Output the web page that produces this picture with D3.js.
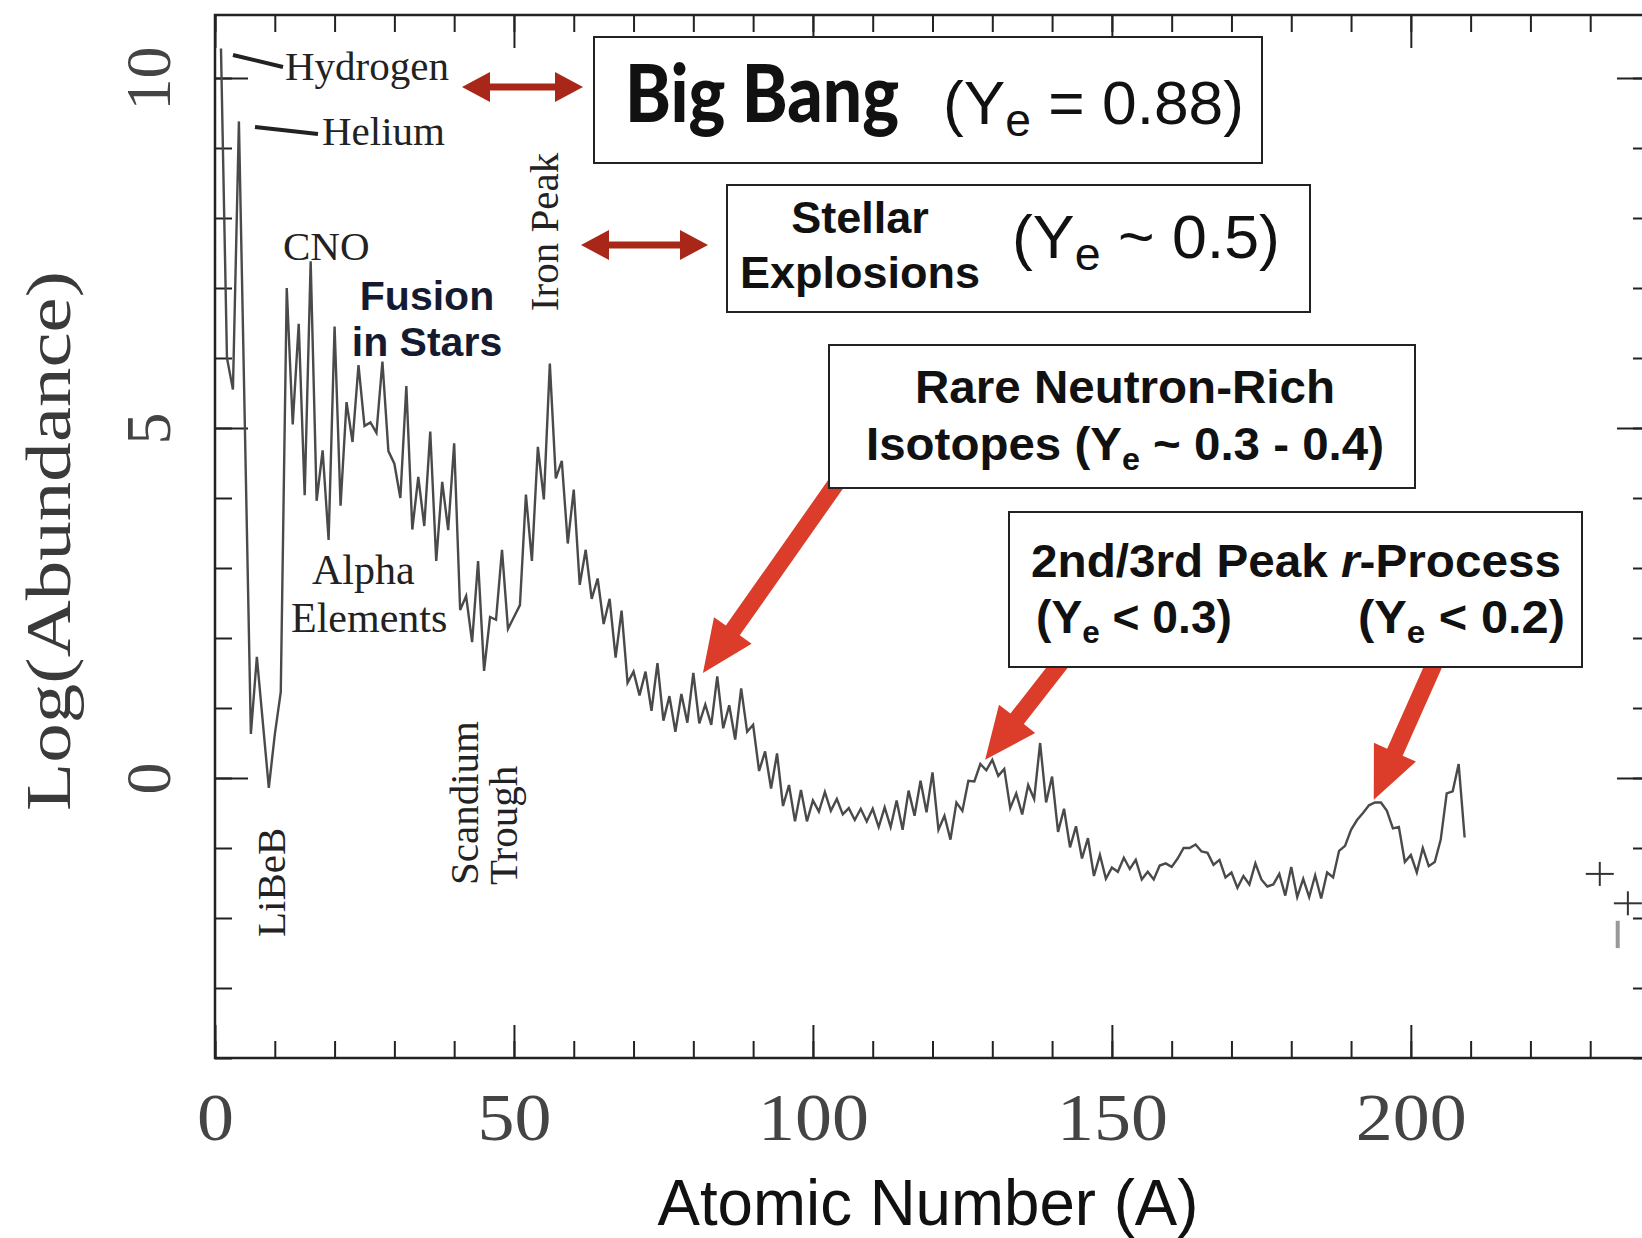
<!DOCTYPE html>
<html>
<head>
<meta charset="utf-8">
<script src="https://cdn.jsdelivr.net/npm/d3@7"></script>
<style>
  body { margin: 0; background: #fff; }
  svg { display: block; }
  .serif { font-family: "Liberation Serif", "DejaVu Serif", serif; fill: #222; }
  .sans { font-family: "Liberation Sans", Arial, sans-serif; fill: #111; }
</style>
</head>
<body>
<div id="chart"></div>
<script>
// Log(abundance) against mass number A
var primordialA = [1, 2, 3, 4, 6, 7];
var primordialLog = [10.42, 6.0, 5.55, 9.38, 0.63, 1.73];

// A = 9 .. 60
var lightStart = 9;
var lightLog = [-0.14, 0.62, 1.23, 7.0, 5.05, 6.49, 4.04, 7.38, 3.96, 4.68,
  3.4, 6.45, 3.89, 5.37, 4.8, 5.9, 5.03, 5.08, 4.93, 5.95,
  4.67, 4.49, 4.0, 5.6, 3.55, 4.3, 3.6, 4.95, 3.1, 4.23,
  3.54, 4.78, 2.4, 2.6, 1.94, 3.1, 1.53, 2.3, 2.26, 3.26,
  2.13, 2.3, 2.47, 4.05, 3.1, 4.73, 3.98, 5.92, 4.28, 4.53,
  3.35, 4.12];

// A = 61 .. 120
var midStart = 61;
var midLog = [2.76, 3.26, 2.56, 2.85, 2.2, 2.56, 1.72, 2.39, 1.36, 1.52,
  1.18, 1.52, 0.96, 1.64, 0.82, 1.17, 0.66, 1.2, 0.79, 1.5,
  0.78, 1.05, 0.76, 1.45, 0.71, 1.04, 0.55, 1.28, 0.66, 0.76,
  0.1, 0.38, -0.15, 0.35, -0.4, -0.1, -0.62, -0.17, -0.62, -0.32,
  -0.48, -0.2, -0.47, -0.3, -0.52, -0.43, -0.6, -0.44, -0.62, -0.44,
  -0.7, -0.42, -0.7, -0.32, -0.74, -0.18, -0.54, -0.04, -0.49, 0.08];

// A = 121 .. 209
var heavyStart = 121;
var heavyLog = [-0.74, -0.54, -0.88, -0.35, -0.47, -0.04, -0.05, 0.2, 0.11, 0.26,
  0.03, 0.13, -0.43, -0.22, -0.52, -0.1, -0.3, 0.5, -0.35, 0.02,
  -0.77, -0.44, -0.99, -0.69, -1.15, -0.86, -1.4, -1.1, -1.44, -1.28,
  -1.34, -1.14, -1.3, -1.17, -1.45, -1.34, -1.45, -1.25, -1.22, -1.27,
  -1.15, -1.0, -1.0, -0.95, -1.05, -1.07, -1.24, -1.17, -1.42, -1.35,
  -1.57, -1.4, -1.52, -1.22, -1.45, -1.55, -1.52, -1.37, -1.68, -1.27,
  -1.7, -1.44, -1.7, -1.39, -1.72, -1.35, -1.42, -1.04, -0.97, -0.74,
  -0.6, -0.5, -0.39, -0.35, -0.35, -0.47, -0.72, -0.7, -1.2, -1.1,
  -1.35, -1.0, -1.26, -1.2, -0.88, -0.22, -0.19, 0.2, -0.85];

// stray marks at the right edge of the original figure
var crossA = [231.6, 236.3];
var crossLog = [-1.37, -1.79];
var barA = [234.6];
var barLo = [-2.43];
var barHi = [-2.04];

var xTickValues = [0, 50, 100, 150, 200];
var xTickLabels = ["0", "50", "100", "150", "200"];
var yTickValues = [0, 5, 10];
var yTickLabels = ["0", "5", "10"];

var svgWidth = 1642;
var svgHeight = 1238;

var svg = d3.select("#chart")
  .append("svg")
  .attr("width", svgWidth)
  .attr("height", svgHeight);

var xScale = d3.scaleLinear().domain([0, 240]).range([215, 1650]);
var yScale = d3.scaleLinear().domain([-4, 10.9]).range([1058, 15]);

// Build the series
var series = [];
primordialA.forEach(function(a, i) { series.push({ a: a, v: primordialLog[i] }); });
lightLog.forEach(function(v, i) { series.push({ a: lightStart + i, v: v }); });
midLog.forEach(function(v, i) { series.push({ a: midStart + i, v: v }); });
heavyLog.forEach(function(v, i) { series.push({ a: heavyStart + i, v: v }); });

// Frame
svg.append("rect")
  .attr("x", xScale(0))
  .attr("y", yScale(10.9))
  .attr("width", xScale(240) - xScale(0))
  .attr("height", yScale(-4) - yScale(10.9))
  .attr("fill", "none")
  .attr("stroke", "#222")
  .attr("stroke-width", 2.5);

// Ticks on all four sides
function tickRow(axis, tr, size, vals) {
  var g = svg.append("g")
    .attr("transform", tr)
    .call(axis.tickValues(vals).tickSize(size).tickFormat(""));
  g.select(".domain").remove();
  g.selectAll("line").attr("stroke", "#222").attr("stroke-width", 2);
  return g;
}
var xMinor = d3.range(0, 241, 10);
var yMinor = d3.range(-4, 11, 1);
tickRow(d3.axisBottom(xScale), "translate(0," + yScale(-4) + ")", -17, xMinor);
tickRow(d3.axisBottom(xScale), "translate(0," + yScale(-4) + ")", -33, xTickValues);
tickRow(d3.axisTop(xScale), "translate(0," + yScale(10.9) + ")", -17, xMinor);
tickRow(d3.axisTop(xScale), "translate(0," + yScale(10.9) + ")", -33, xTickValues);
tickRow(d3.axisLeft(yScale), "translate(" + xScale(0) + ",0)", -17, yMinor);
tickRow(d3.axisLeft(yScale), "translate(" + xScale(0) + ",0)", -33, yTickValues);
tickRow(d3.axisRight(yScale), "translate(" + xScale(240) + ",0)", -17, yMinor);
tickRow(d3.axisRight(yScale), "translate(" + xScale(240) + ",0)", -33, yTickValues);

// Tick labels
var xLab = svg.append("g")
  .attr("transform", "translate(0," + yScale(-4) + ")")
  .call(d3.axisBottom(xScale).tickValues(xTickValues).tickSize(0)
    .tickFormat(function(d, i) { return xTickLabels[i]; }));
xLab.select(".domain").remove();
xLab.selectAll("text")
  .attr("y", 82).attr("dy", 0)
  .attr("class", "serif")
  .attr("font-size", 68)
  .attr("fill", "#444")
  .style("fill", "#444")
  .attr("textLength", function(d, i) { return 37 * xTickLabels[i].length; })
  .attr("lengthAdjust", "spacingAndGlyphs")
  .attr("font-family", null);

var yLab = svg.append("g")
  .attr("transform", "translate(" + xScale(0) + ",0)")
  .call(d3.axisLeft(yScale).tickValues(yTickValues).tickSize(0)
    .tickFormat(function(d, i) { return yTickLabels[i]; }));
yLab.select(".domain").remove();
yLab.selectAll("text")
  .attr("x", 0).attr("y", 0).attr("dy", 0)
  .attr("text-anchor", "middle")
  .attr("transform", "translate(-45,0) rotate(-90)")
  .attr("class", "serif")
  .attr("font-size", 64)
  .style("fill", "#444")
  .attr("textLength", function(d, i) { return 32 * yTickLabels[i].length; })
  .attr("lengthAdjust", "spacingAndGlyphs")
  .attr("font-family", null);

// Axis titles
svg.append("text")
  .attr("class", "serif")
  .attr("transform", "translate(70,541) rotate(-90)")
  .attr("text-anchor", "middle")
  .attr("font-size", 64)
  .style("fill", "#3a3a3a")
  .attr("textLength", 540)
  .attr("lengthAdjust", "spacingAndGlyphs")
  .text("Log(Abundance)");

svg.append("text")
  .attr("class", "sans")
  .attr("x", 928)
  .attr("y", 1225)
  .attr("text-anchor", "middle")
  .attr("font-size", 64)
  .attr("textLength", 541)
  .attr("lengthAdjust", "spacingAndGlyphs")
  .text("Atomic Number (A)");

// Abundance curve
var line = d3.line()
  .x(function(d) { return xScale(d.a); })
  .y(function(d) { return yScale(d.v); });

svg.append("path")
  .datum(series)
  .attr("d", line)
  .attr("fill", "none")
  .attr("stroke", "#4a4a4a")
  .attr("stroke-width", 2.4)
  .attr("stroke-linejoin", "miter");

// Stray marks at right edge
crossA.forEach(function(a, i) {
  var cx = xScale(a), cy = yScale(crossLog[i]);
  svg.append("line").attr("x1", cx - 14).attr("x2", cx + 14).attr("y1", cy).attr("y2", cy)
    .attr("stroke", "#333").attr("stroke-width", 2);
  svg.append("line").attr("x1", cx).attr("x2", cx).attr("y1", cy - 12).attr("y2", cy + 12)
    .attr("stroke", "#333").attr("stroke-width", 2);
});
barA.forEach(function(a, i) {
  svg.append("line")
    .attr("x1", xScale(a)).attr("x2", xScale(a))
    .attr("y1", yScale(barLo[i])).attr("y2", yScale(barHi[i]))
    .attr("stroke", "#999").attr("stroke-width", 4);
});

// Serif labels inside the plot
function serifText(x, y, s, size, rotate, anchor) {
  var t = svg.append("text")
    .attr("class", "serif")
    .attr("font-size", size)
    .attr("text-anchor", anchor || "start")
    .text(s);
  if (rotate) t.attr("transform", "translate(" + x + "," + y + ") rotate(-90)");
  else t.attr("x", x).attr("y", y);
  return t;
}
serifText(285, 80, "Hydrogen", 41);
serifText(322, 145, "Helium", 41);
serifText(283, 260, "CNO", 41);
serifText(558, 232, "Iron Peak", 41, true, "middle");
serifText(312, 584, "Alpha", 42);
serifText(291, 632, "Elements", 42);
serifText(285, 937, "LiBeB", 41, true, "start");
serifText(478, 885, "Scandium", 41, true, "start");
serifText(517, 885, "Trough", 41, true, "start");

svg.append("line").attr("x1", 233).attr("y1", 55).attr("x2", 283).attr("y2", 67)
  .attr("stroke", "#222").attr("stroke-width", 4);
svg.append("line").attr("x1", 255).attr("y1", 127).attr("x2", 318).attr("y2", 134)
  .attr("stroke", "#222").attr("stroke-width", 4);

// Fusion in Stars
svg.append("text").attr("class", "sans").attr("x", 427).attr("y", 310)
  .attr("text-anchor", "middle").attr("font-size", 41).attr("font-weight", "bold")
  .style("fill", "#151a30").text("Fusion");
svg.append("text").attr("class", "sans").attr("x", 427).attr("y", 356)
  .attr("text-anchor", "middle").attr("font-size", 41).attr("font-weight", "bold")
  .style("fill", "#151a30").text("in Stars");

// Arrows
function doubleArrow(x1, x2, y, color) {
  var hl = 28, hw = 15, sw = 3.5;
  var pts = [[x1, y], [x1 + hl, y - hw], [x1 + hl, y - sw], [x2 - hl, y - sw], [x2 - hl, y - hw],
    [x2, y], [x2 - hl, y + hw], [x2 - hl, y + sw], [x1 + hl, y + sw], [x1 + hl, y + hw]];
  svg.append("polygon").attr("points", pts.map(function(p) { return p.join(","); }).join(" "))
    .attr("fill", color);
}
doubleArrow(462, 583, 87, "#a92718");
doubleArrow(581, 708, 245, "#a92718");

function fatArrow(x1, y1, x2, y2, color) {
  var shaft = 17, headW = 46, headL = 52;
  var dx = x2 - x1, dy = y2 - y1, len = Math.hypot(dx, dy);
  var ux = dx / len, uy = dy / len, px = -uy, py = ux;
  var bx = x2 - ux * headL, by = y2 - uy * headL;
  var pts = [
    [x1 + px * shaft / 2, y1 + py * shaft / 2],
    [bx + px * shaft / 2, by + py * shaft / 2],
    [bx + px * headW / 2, by + py * headW / 2],
    [x2, y2],
    [bx - px * headW / 2, by - py * headW / 2],
    [bx - px * shaft / 2, by - py * shaft / 2],
    [x1 - px * shaft / 2, y1 - py * shaft / 2]];
  svg.append("polygon").attr("points", pts.map(function(p) { return p.join(","); }).join(" "))
    .attr("fill", color);
}
var red = "#dc3d2a";
fatArrow(840, 478, xScale(81.6), yScale(1.5), red);
fatArrow(1063, 660, xScale(128.8), yScale(0.26), red);
fatArrow(1436, 660, xScale(193.8), yScale(-0.31), red);

// Boxes
function box(x, y, w, h) {
  svg.append("rect").attr("x", x).attr("y", y).attr("width", w).attr("height", h)
    .attr("fill", "#fff").attr("stroke", "#222").attr("stroke-width", 2);
}
box(594, 37, 668, 126);
box(727, 185, 583, 127);
box(829, 345, 586, 143);
box(1009, 512, 573, 155);

// Ye text helper: main text, subscript e, rest
function yeText(x, y, before, after, size, subSize, shift, len, weight) {
  var t = svg.append("text").attr("class", "sans").attr("x", x).attr("y", y)
    .attr("font-size", size).attr("font-weight", weight || "normal");
  t.append("tspan").text(before);
  t.append("tspan").attr("dy", shift).attr("font-size", subSize).text("e");
  t.append("tspan").attr("dy", -shift).text(after);
  if (len) t.attr("textLength", len).attr("lengthAdjust", "spacingAndGlyphs");
  return t;
}

svg.append("text")
  .attr("x", 625).attr("y", 122)
  .attr("font-family", "Lato, 'Open Sans', sans-serif")
  .attr("font-weight", 900)
  .attr("font-size", 80)
  .attr("fill", "#111")
  .attr("textLength", 274)
  .attr("lengthAdjust", "spacingAndGlyphs")
  .text("Big Bang");
yeText(943, 124, "(Y", " = 0.88)", 62, 46, 12, 301);

svg.append("text").attr("class", "sans").attr("x", 860).attr("y", 233)
  .attr("text-anchor", "middle").attr("font-size", 45).attr("font-weight", "bold").text("Stellar");
svg.append("text").attr("class", "sans").attr("x", 860).attr("y", 288)
  .attr("text-anchor", "middle").attr("font-size", 45).attr("font-weight", "bold").text("Explosions");
yeText(1012, 258, "(Y", " ~ 0.5)", 62, 46, 12, 268);

svg.append("text").attr("class", "sans").attr("x", 915).attr("y", 403)
  .attr("font-size", 47).attr("font-weight", "bold")
  .attr("textLength", 420).attr("lengthAdjust", "spacingAndGlyphs")
  .text("Rare Neutron-Rich");
yeText(866, 460, "Isotopes (Y", " ~ 0.3 - 0.4)", 47, 32, 10, 518, "bold");

var rp = svg.append("text").attr("class", "sans").attr("x", 1031).attr("y", 577)
  .attr("font-size", 47).attr("font-weight", "bold")
  .attr("textLength", 530).attr("lengthAdjust", "spacingAndGlyphs");
rp.append("tspan").text("2nd/3rd Peak ");
rp.append("tspan").attr("font-style", "italic").text("r");
rp.append("tspan").text("-Process");
yeText(1036, 633, "(Y", " < 0.3)", 47, 32, 10, 196, "bold");
yeText(1358, 633, "(Y", " < 0.2)", 47, 32, 10, 207, "bold");
</script>
</body>
</html>
